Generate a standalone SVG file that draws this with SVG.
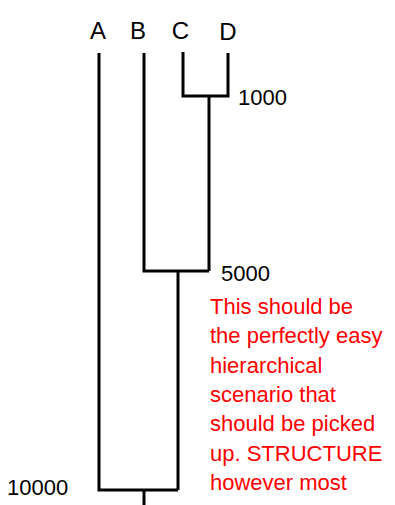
<svg xmlns="http://www.w3.org/2000/svg" width="395" height="505" viewBox="0 0 395 505">
<style>
.lbl{font-family:"Liberation Sans",Arial,sans-serif;font-size:24px;fill:#000}
.num{font-family:"Liberation Sans",Arial,sans-serif;font-size:22px;fill:#000}
.note{font-family:"Liberation Sans",Arial,sans-serif;font-size:22px;fill:#ff0000}
.br{fill:none;stroke:#000;stroke-width:3;stroke-linejoin:miter;stroke-linecap:butt}
</style>
<rect width="395" height="505" fill="#fff"/>
<g id="leaf-A"><text class="lbl" x="98" y="39" text-anchor="middle">A</text></g>
<g id="leaf-B"><text class="lbl" x="138" y="39" text-anchor="middle">B</text></g>
<g id="leaf-C"><text class="lbl" x="180.5" y="39" text-anchor="middle">C</text></g>
<g id="leaf-D"><text class="lbl" x="228" y="40" text-anchor="middle">D</text></g>
<g id="connectors">
<polyline class="br" points="183,52 183,96 228,96 228,53"/>
<line class="br" x1="209" y1="96" x2="209" y2="271"/>
<polyline class="br" points="144,53 144,271 209,271"/>
<line class="br" x1="178" y1="271" x2="178" y2="490"/>
<polyline class="br" points="99,53 99,490 178,490"/>
<line class="br" x1="144" y1="490" x2="144" y2="505"/>
</g>
<g id="node-1000"><text class="num" x="238" y="105">1000</text></g>
<g id="node-5000"><text class="num" x="221" y="281">5000</text></g>
<g id="node-10000"><text class="num" x="7" y="495">10000</text></g>
<g id="note">
<text class="note" x="210" y="314">This should be</text>
<text class="note" x="210" y="343.3">the perfectly easy</text>
<text class="note" x="210" y="372.7">hierarchical</text>
<text class="note" x="210" y="401.7">scenario that</text>
<text class="note" x="210" y="430.7">should be picked</text>
<text class="note" x="210" y="460.7">up. STRUCTURE</text>
<text class="note" x="210" y="490">however most</text>
</g>
</svg>
